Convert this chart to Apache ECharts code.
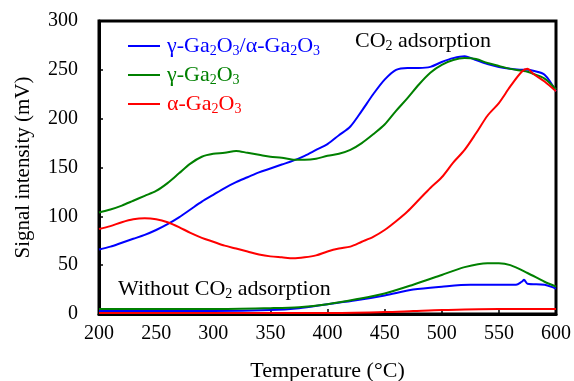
<!DOCTYPE html>
<html><head><meta charset="utf-8">
<script src="https://cdn.jsdelivr.net/npm/echarts@6/dist/echarts.min.js"></script>
<style>html,body{margin:0;padding:0;background:#fff}#c{width:574px;height:381px}</style>
</head><body><div id="c"></div>
<script>
// temperatures (°C) for the CO2 adsorption curves
const tHigh = [200,210,220,230,240,250,260,270,280,290,300,310,320,330,340,350,360,370,380,390,400,410,420,430,440,450,460,470,480,490,500,510,520,530,540,550,560,570,575,580,590,600];
const blueHigh  = [66,69,73,77,81,86,92,99,107,115,122,129,135,140,145,149,153,157,162,168,174,183,192,208,225,240,250,252,252,253,258,262,264,260,256,253,251,250,250,249,245,228];
const greenHigh = [104,107,111,116,121,126,134,144,154,161,164,165,167,165,163,161,160,158,158,159,162,164,168,175,184,194,208,221,235,247,255,260,262,261,257,254,251,249,248,246,241,230];
const redHigh   = [87,90,94,97,98,97,94,89,83,78,74,70,67,64,61,59,58,57,58,60,64,67,69,74,79,86,95,105,117,129,140,155,168,185,203,216,233,248,251,246,238,228];
// without CO2 adsorption
const tBlueLow  = [200,250,300,350,375,400,425,450,475,500,525,550,565,570,572,575,590,600];
const blueLow   = [3,3,3,4,6,10,14,19,25,28,30,30,30,33,35,31,30,26];
const tGreenLow = [200,250,300,350,375,400,425,450,475,500,520,540,550,560,575,590,600];
const greenLow  = [5,5,5,6,7,10,15,21,30,40,48,52,52,50,42,33,28];
const tRedLow   = [200,300,400,450,475,500,550,600];
const redLow    = [1,1,1,2,3,4,5,5];
const xTicks = [200,250,300,350,400,450,500,550,600];
const yTicks = [0,50,100,150,200,250,300];
const names = ['γ-Ga2O3/α-Ga2O3','γ-Ga2O3','α-Ga2O3'];
const colors = ['#0000ff','#008000','#ff0000'];

const F = '"Liberation Serif","Times New Roman",serif';
const pair = (t, v) => t.map((x, i) => [x, v[i]]);
const mk = (name, t, v, c) => ({type:'line', name, data:pair(t, v), showSymbol:false, smooth:0.3,
  lineStyle:{color:c, width:2}, itemStyle:{color:c}, animation:false});

const legendRich = {};
['b','g','r'].forEach((k, i) => {
  legendRich[k] = {color:colors[i], fontSize:22, fontFamily:F, lineHeight:24};
  legendRich[k+'s'] = {color:colors[i], fontSize:14, fontFamily:F, lineHeight:16, verticalAlign:'bottom'};
});
function richName(name, k){
  return name.split(/(\d)/).filter(s => s).map(s => /\d/.test(s) ? `{${k}s|${s}}` : `{${k}|${s}}`).join('');
}
const annRich = {n:{fontSize:22, fontFamily:F, fill:'#000', lineHeight:24}, s:{fontSize:14, fontFamily:F, fill:'#000', lineHeight:16, verticalAlign:'bottom'}};
const ch = echarts.init(document.getElementById('c'));
ch.setOption({
  animation:false,
  grid:{left:99, right:18, top:21, bottom:67, outerBoundsMode:'none', containLabel:false,
    show:true, borderColor:'#000', borderWidth:3, backgroundColor:'transparent'},
  xAxis:{type:'value', min:200, max:600, interval:50,
    name:'Temperature (°C)', nameLocation:'middle', nameGap:46,
    nameTextStyle:{fontFamily:F, fontSize:22, color:'#000'},
    axisLine:{lineStyle:{color:'#000', width:3}}, axisTick:{inside:true, length:5, lineStyle:{color:'#000', width:1.5}},
    axisLabel:{fontFamily:F, fontSize:20, color:'#000', margin:10}, splitLine:{show:false}},
  yAxis:{type:'value', min:0, max:300, interval:50,
    name:'Signal intensity (mV)', nameLocation:'middle', nameGap:65,
    nameTextStyle:{fontFamily:F, fontSize:21, color:'#000'},
    axisLine:{lineStyle:{color:'#000', width:3}}, axisTick:{inside:true, length:4, lineStyle:{color:'#000', width:1.5}},
    axisLabel:{fontFamily:F, fontSize:20, color:'#000', margin:21}, splitLine:{show:false}},
  legend:{orient:'vertical', left:123, top:30, itemGap:6, itemWidth:32, itemHeight:2, icon:'rect',
    data:names.map((n, i) => ({name:n, itemStyle:{color:colors[i]}})),
    formatter:(n) => richName(n, ['b','g','r'][names.indexOf(n)]),
    textStyle:{rich:legendRich, padding:[0,0,0,2]}},
  graphic:[
    {type:'text', left:355, top:30, style:{text:'{n|CO}{s|2}{n| adsorption}', rich:annRich}},
    {type:'text', left:118, top:278, style:{text:'{n|Without CO}{s|2}{n| adsorption}', rich:annRich}}
  ],
  series:[
    mk(names[0], tHigh, blueHigh, colors[0]),
    mk(names[1], tHigh, greenHigh, colors[1]),
    mk(names[2], tHigh, redHigh, colors[2]),
    mk('blue-low', tBlueLow, blueLow, colors[0]),
    mk('green-low', tGreenLow, greenLow, colors[1]),
    mk('red-low', tRedLow, redLow, colors[2])
  ]
});
</script></body></html>
